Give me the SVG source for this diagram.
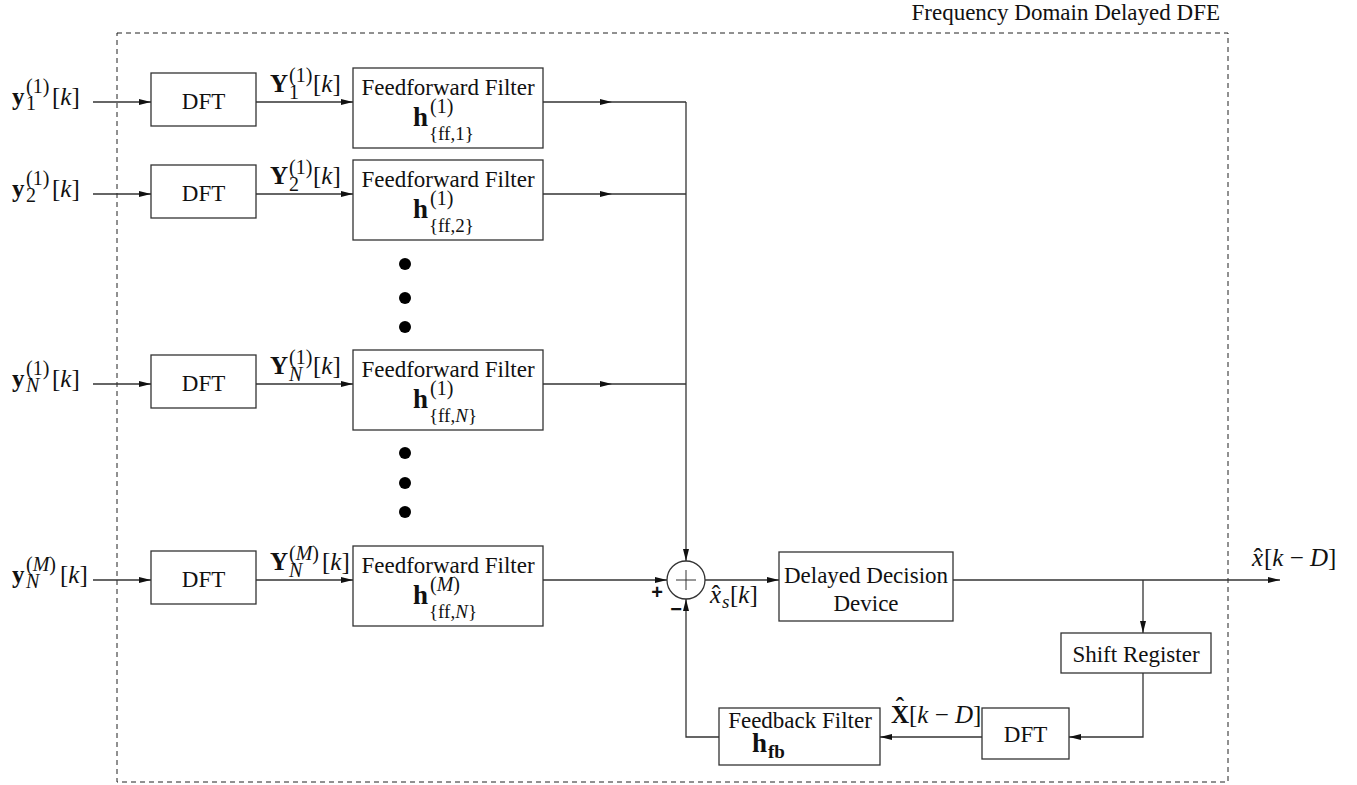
<svg xmlns="http://www.w3.org/2000/svg" width="1357" height="785" viewBox="0 0 1357 785">
  <style>
    .bx { fill: #fff; stroke: #333; stroke-width: 1.3; }
    .ln { fill: none; stroke: #333; stroke-width: 1.3; }
    .ar { fill: none; stroke: #333; stroke-width: 1.3; marker-end: url(#ah); }
    .t { font-family: "Liberation Serif", "Times New Roman", serif; font-size: 23px; fill: #111; }
    .m { font-family: "Liberation Serif", "Times New Roman", serif; font-size: 25px; fill: #111; }
    .mb { font-family: "Liberation Serif", "Times New Roman", serif; font-size: 25px; font-weight: bold; fill: #111; }
    .hb { font-family: "Liberation Serif", "Times New Roman", serif; font-size: 27px; font-weight: bold; fill: #111; }
    .sc { font-family: "Liberation Serif", "Times New Roman", serif; font-size: 20px; fill: #111; }
    .ss { font-family: "Liberation Serif", "Times New Roman", serif; font-size: 19px; fill: #111; }
    .scb { font-family: "Liberation Serif", "Times New Roman", serif; font-size: 19px; font-weight: bold; fill: #111; }
    .i { font-style: italic; }
    .c { text-anchor: middle; }
    .sg { font-family: "Liberation Sans", Arial, sans-serif; font-size: 20px; font-weight: bold; fill: #111; text-anchor: middle; }
  </style>
  <defs>
    <marker id="ah" viewBox="0 0 12 6" refX="12" refY="3" markerWidth="12" markerHeight="6" markerUnits="userSpaceOnUse" orient="auto">
      <path d="M0,0 L12,3 L0,6 z" fill="#111"/>
    </marker>
  </defs>

  <!-- equalizer boundary -->
  <g id="boundary">
    <rect x="117" y="33" width="1111" height="749" fill="none" stroke="#222" stroke-width="1" stroke-dasharray="5,4"/>
    <text class="t" x="1220" y="20" text-anchor="end">Frequency Domain Delayed DFE</text>
  </g>

  <!-- branch 1 -->
  <g id="in1">
    <text class="mb" x="12" y="105">y</text>
    <text class="sc" x="26" y="93">(1)</text>
    <text class="sc" x="26" y="110">1</text>
    <text class="m" x="52" y="105">[<tspan class="i">k</tspan>]</text>
  </g>
  <g id="dft1">
    <rect class="bx" x="151" y="73" width="105" height="53"/>
    <text class="t c" x="203.5" y="109">DFT</text>
  </g>
  <g id="Y1">
    <text class="mb" x="270" y="92">Y</text>
    <text class="sc" x="289" y="82">(1)</text>
    <text class="sc" x="289" y="99">1</text>
    <text class="m" x="313" y="92">[<tspan class="i">k</tspan>]</text>
  </g>
  <g id="ff1">
    <rect class="bx" x="353" y="68" width="190" height="80"/>
    <text class="t c" x="448" y="95">Feedforward Filter</text>
    <text class="hb" x="413" y="126">h</text>
    <text class="sc" x="430" y="113">(1)</text>
    <text class="ss" x="429" y="140">{ff,1}</text>
  </g>

  <!-- branch 2 -->
  <g id="in2">
    <text class="mb" x="12" y="197">y</text>
    <text class="sc" x="26" y="185">(1)</text>
    <text class="sc" x="26" y="202">2</text>
    <text class="m" x="52" y="197">[<tspan class="i">k</tspan>]</text>
  </g>
  <g id="dft2">
    <rect class="bx" x="151" y="165" width="105" height="53"/>
    <text class="t c" x="203.5" y="201">DFT</text>
  </g>
  <g id="Y2">
    <text class="mb" x="270" y="184">Y</text>
    <text class="sc" x="289" y="174">(1)</text>
    <text class="sc" x="289" y="191">2</text>
    <text class="m" x="313" y="184">[<tspan class="i">k</tspan>]</text>
  </g>
  <g id="ff2">
    <rect class="bx" x="353" y="160" width="190" height="80"/>
    <text class="t c" x="448" y="187">Feedforward Filter</text>
    <text class="hb" x="413" y="218">h</text>
    <text class="sc" x="430" y="205">(1)</text>
    <text class="ss" x="429" y="232">{ff,2}</text>
  </g>

  <!-- ellipsis dots -->
  <g id="dots">
    <circle cx="405" cy="264" r="6" fill="#000"/>
    <circle cx="405" cy="298" r="6" fill="#000"/>
    <circle cx="405" cy="327" r="6" fill="#000"/>
    <circle cx="405" cy="453" r="6" fill="#000"/>
    <circle cx="405" cy="483" r="6" fill="#000"/>
    <circle cx="405" cy="512" r="6" fill="#000"/>
  </g>

  <!-- branch N -->
  <g id="inN">
    <text class="mb" x="12" y="387">y</text>
    <text class="sc" x="26" y="375">(1)</text>
    <text class="sc i" x="26" y="392">N</text>
    <text class="m" x="52" y="387">[<tspan class="i">k</tspan>]</text>
  </g>
  <g id="dftN">
    <rect class="bx" x="151" y="355" width="105" height="53"/>
    <text class="t c" x="203.5" y="391">DFT</text>
  </g>
  <g id="YN">
    <text class="mb" x="270" y="374">Y</text>
    <text class="sc" x="289" y="364">(1)</text>
    <text class="sc i" x="289" y="381">N</text>
    <text class="m" x="313" y="374">[<tspan class="i">k</tspan>]</text>
  </g>
  <g id="ffN">
    <rect class="bx" x="353" y="350" width="190" height="80"/>
    <text class="t c" x="448" y="377">Feedforward Filter</text>
    <text class="hb" x="413" y="408">h</text>
    <text class="sc" x="430" y="395">(1)</text>
    <text class="ss" x="429" y="422">{ff,<tspan class="i">N</tspan>}</text>
  </g>

  <!-- branch M -->
  <g id="inM">
    <text class="mb" x="12" y="583">y</text>
    <text class="sc" x="26" y="571">(<tspan class="i">M</tspan>)</text>
    <text class="sc i" x="26" y="588">N</text>
    <text class="m" x="60" y="583">[<tspan class="i">k</tspan>]</text>
  </g>
  <g id="dftM">
    <rect class="bx" x="151" y="551" width="105" height="53"/>
    <text class="t c" x="203.5" y="587">DFT</text>
  </g>
  <g id="YM">
    <text class="mb" x="270" y="570">Y</text>
    <text class="sc" x="289" y="560">(<tspan class="i">M</tspan>)</text>
    <text class="sc i" x="289" y="577">N</text>
    <text class="m" x="322" y="570">[<tspan class="i">k</tspan>]</text>
  </g>
  <g id="ffM">
    <rect class="bx" x="353" y="546" width="190" height="80"/>
    <text class="t c" x="448" y="573">Feedforward Filter</text>
    <text class="hb" x="413" y="604">h</text>
    <text class="sc" x="430" y="591">(<tspan class="i">M</tspan>)</text>
    <text class="ss" x="429" y="618">{ff,<tspan class="i">N</tspan>}</text>
  </g>

  <!-- summing junction -->
  <g id="sum">
    <circle cx="686" cy="580" r="19" fill="#fff" stroke="#333" stroke-width="1.3"/>
    <path d="M676,580 H696 M686,570 V590" stroke="#333" stroke-width="1"/>
    <text class="sg" x="657" y="599">+</text>
    <text class="sg" x="676" y="616">−</text>
  </g>
  <g id="xs">
    <text class="m i" x="710" y="603">x</text>
    <text class="m c" x="716" y="603">ˆ</text>
    <text class="ss i" x="722" y="608">s</text>
    <text class="m" x="730" y="603">[<tspan class="i">k</tspan>]</text>
  </g>

  <!-- decision device -->
  <g id="decision">
    <rect class="bx" x="779" y="552" width="174" height="69"/>
    <text class="t c" x="866" y="583">Delayed Decision</text>
    <text class="t c" x="866" y="611">Device</text>
  </g>
  <g id="xout">
    <text class="m i" x="1252" y="566">x</text>
    <text class="m c" x="1258" y="566">ˆ</text>
    <text class="m" x="1264" y="566">[<tspan class="i">k</tspan> − <tspan class="i">D</tspan>]</text>
  </g>

  <!-- feedback path -->
  <g id="shiftreg">
    <rect class="bx" x="1061" y="633" width="150" height="40"/>
    <text class="t c" x="1136" y="662">Shift Register</text>
  </g>
  <g id="dftfb">
    <rect class="bx" x="982" y="708" width="87" height="51"/>
    <text class="t c" x="1025.5" y="742">DFT</text>
  </g>
  <g id="Xfb">
    <text class="mb" x="891" y="723" font-size="24">X</text>
    <text class="mb c" x="900" y="715" font-size="24">ˆ</text>
    <text class="m" x="909" y="723" font-size="24">[<tspan class="i">k</tspan> − <tspan class="i">D</tspan>]</text>
  </g>
  <g id="fbfilter">
    <rect class="bx" x="719" y="708" width="161" height="57"/>
    <text class="t c" x="800" y="728">Feedback Filter</text>
    <text class="hb" x="752" y="752">h</text>
    <text class="scb" x="768" y="758">fb</text>
  </g>

  <!-- connectors -->
  <g id="connectors">
    <line class="ar" x1="93" y1="102" x2="151" y2="102"/>
    <line class="ar" x1="256" y1="102" x2="353" y2="102"/>
    <line class="ar" x1="543" y1="102" x2="612" y2="102"/>
    <line class="ln" x1="612" y1="102" x2="686" y2="102"/>

    <line class="ar" x1="93" y1="194" x2="151" y2="194"/>
    <line class="ar" x1="256" y1="194" x2="353" y2="194"/>
    <line class="ar" x1="543" y1="194" x2="612" y2="194"/>
    <line class="ln" x1="612" y1="194" x2="686" y2="194"/>

    <line class="ar" x1="93" y1="384" x2="151" y2="384"/>
    <line class="ar" x1="256" y1="384" x2="353" y2="384"/>
    <line class="ar" x1="543" y1="384" x2="612" y2="384"/>
    <line class="ln" x1="612" y1="384" x2="686" y2="384"/>

    <line class="ar" x1="93" y1="580" x2="151" y2="580"/>
    <line class="ar" x1="256" y1="580" x2="353" y2="580"/>
    <line class="ar" x1="543" y1="580" x2="667" y2="580"/>

    <line class="ar" x1="686" y1="102" x2="686" y2="561"/>
    <line class="ar" x1="705" y1="580" x2="779" y2="580"/>
    <line class="ar" x1="953" y1="580" x2="1280" y2="580"/>
    <line class="ar" x1="1143" y1="580" x2="1143" y2="633"/>
    <polyline class="ar" points="1143,673 1143,737 1069,737"/>
    <line class="ar" x1="982" y1="737" x2="880" y2="737"/>
    <polyline class="ar" points="719,737 686,737 686,599"/>
  </g>
</svg>
